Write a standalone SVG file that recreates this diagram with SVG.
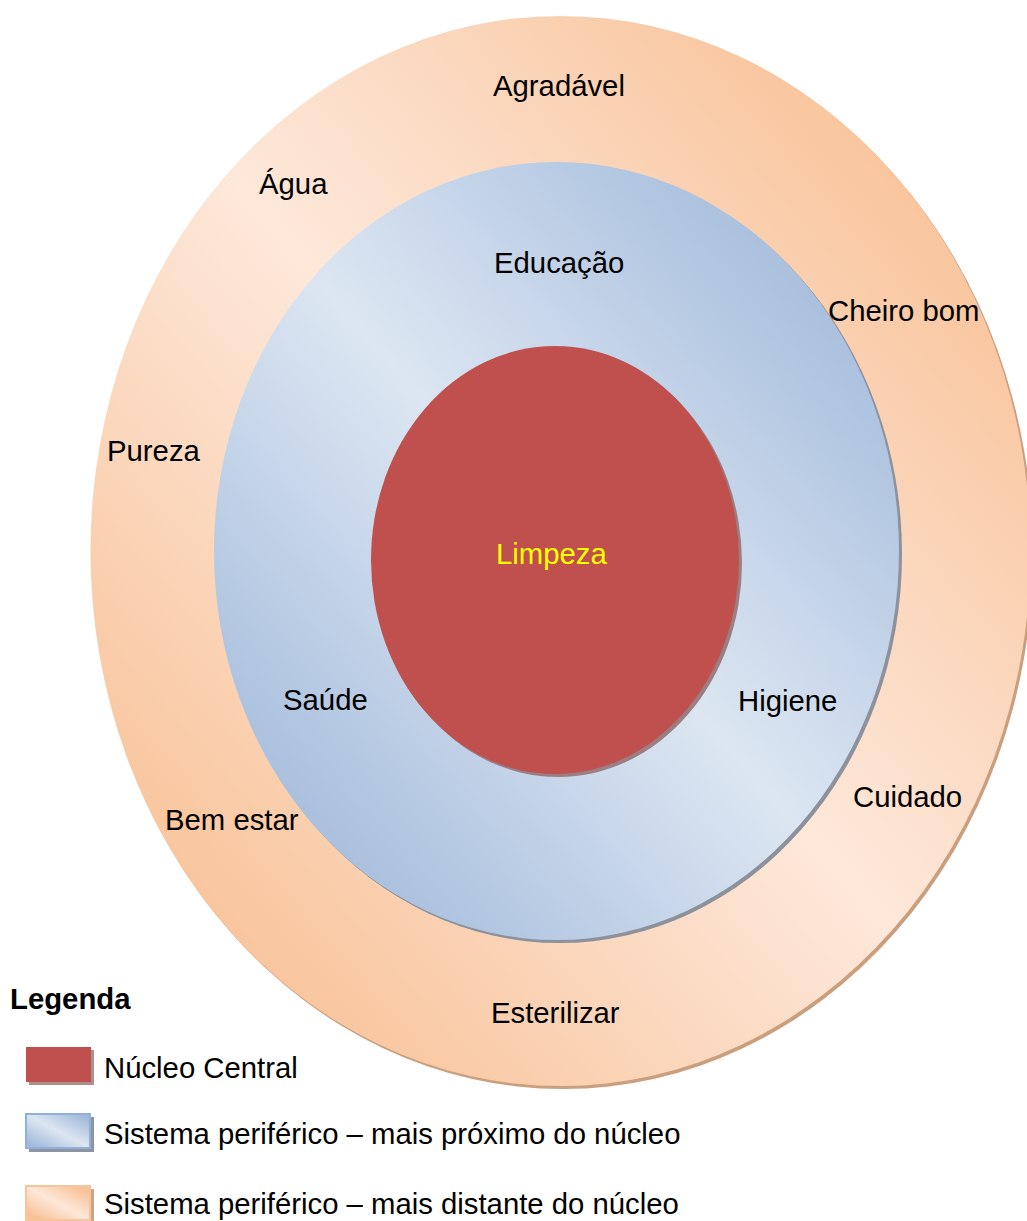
<svg xmlns="http://www.w3.org/2000/svg" width="1027" height="1221" viewBox="0 0 1027 1221">
<defs>
<linearGradient id="gOuter" x1="1" y1="0" x2="0" y2="1">
<stop offset="0.1" stop-color="#f8c196"/>
<stop offset="0.5" stop-color="#fde8da"/>
<stop offset="0.9" stop-color="#f8c196"/>
</linearGradient>
<linearGradient id="gMid" x1="1" y1="0" x2="0" y2="1">
<stop offset="0.1" stop-color="#a3bbdb"/>
<stop offset="0.5" stop-color="#dce6f2"/>
<stop offset="0.9" stop-color="#a3bbdb"/>
</linearGradient>
<style>
.t{font-family:"Liberation Sans",Arial,sans-serif;font-size:29.3px;fill:#000}
.b{font-weight:bold}
</style>
</defs>
<rect width="1027" height="1221" fill="#fff"/>
<g id="outer">
<ellipse cx="563" cy="554" rx="470" ry="535" fill="#c99f7e"/>
<ellipse cx="560.5" cy="551" rx="470" ry="535" fill="url(#gOuter)"/>
</g>
<g id="middle">
<ellipse cx="559.5" cy="554" rx="342.5" ry="389" fill="#8c919c"/>
<ellipse cx="556.5" cy="551" rx="342.5" ry="389" fill="url(#gMid)"/>
</g>
<g id="core">
<ellipse cx="558" cy="563" rx="184" ry="214" fill="#9b7e82"/>
<ellipse cx="555" cy="560" rx="184" ry="214" fill="#c0504d"/>
<text class="t" x="496" y="564" style="fill:#ffff00">Limpeza</text>
</g>
<g id="connectors"></g>
<g id="labels-outer">
<text class="t" x="493" y="96">Agradável</text>
<text class="t" x="259" y="194">Água</text>
<text class="t" x="828" y="321">Cheiro bom</text>
<text class="t" x="107" y="461">Pureza</text>
<text class="t" x="853" y="807">Cuidado</text>
<text class="t" x="165" y="830">Bem estar</text>
<text class="t" x="491" y="1023">Esterilizar</text>
</g>
<g id="labels-middle">
<text class="t" x="494" y="273">Educação</text>
<text class="t" x="283" y="710">Saúde</text>
<text class="t" x="738" y="711">Higiene</text>
</g>
<g id="legend">
<text class="t b" x="10" y="1009">Legenda</text>
<rect x="29" y="1050" width="65" height="35" fill="#ad8f90"/>
<rect x="26" y="1047" width="65" height="35" fill="#c0504d"/>
<text class="t" x="104" y="1078">Núcleo Central</text>
<rect x="29" y="1117" width="65" height="35" fill="#8d95a2"/>
<rect x="26" y="1114" width="64" height="34" fill="url(#gMid)" stroke="#8fb0d9" stroke-width="2"/>
<text class="t" x="104" y="1144">Sistema periférico – mais próximo do núcleo</text>
<rect x="29" y="1189" width="65" height="35" fill="#c9a587"/>
<rect x="26" y="1186" width="64" height="34" fill="url(#gOuter)" stroke="#f8c49c" stroke-width="2"/>
<text class="t" x="104" y="1214">Sistema periférico – mais distante do núcleo</text>
</g>
</svg>
